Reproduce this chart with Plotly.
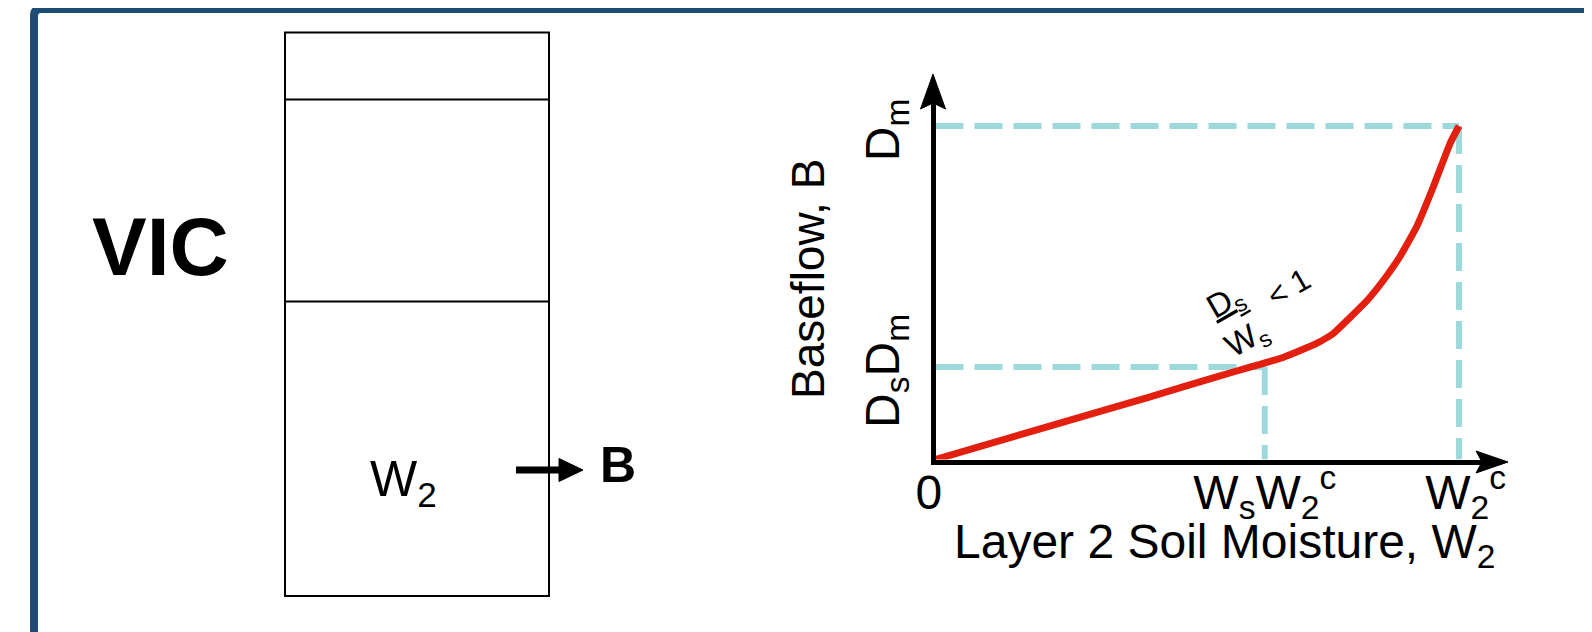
import plotly.graph_objects as go

W, H = 1592, 632

# ---- data (W2 normalised by W2c, B normalised by Dm) ----
soil_moisture = [0, 0.2, 0.41, 0.537, 0.601, 0.664, 0.728, 0.760, 0.792, 0.824,
                 0.855, 0.887, 0.919, 0.951, 0.983, 1.0]
baseflow = [0, 0.092, 0.188, 0.248, 0.277, 0.306, 0.348, 0.378, 0.426, 0.476,
            0.536, 0.608, 0.698, 0.818, 0.948, 1.0]
ws_frac = 0.629
ds_frac = 0.277
x_tick_vals = [0, ws_frac, 1.0]
x_tick_text = ["0&nbsp;", "W<sub>s</sub>W<sub>2</sub><sup>c</sup>", "&nbsp;W<sub>2</sub><sup>c</sup>"]
y_tick_vals = [ds_frac, 1.0]
y_tick_text = ["D<sub>s</sub>D<sub>m</sub>", "D<sub>m</sub>"]

FONT = "Liberation Sans, Arial, Helvetica, sans-serif"
CYAN = "#9DD8DB"
RED = "#E3200F"
NAVY = "#1F4C75"

# page offset of the plot inside the html page
OFF = 8

# ---- pixel geometry of the chart box ----
X0_PX, X_UNIT, X_END = 935.5, 523.5, 1500
Y0_PX, Y_UNIT, Y_END = 459.5, 333.5, 82


def px(x):
    return (x - OFF) / W


def py(y):
    return 1 - (y - OFF) / H


fig = go.Figure()

dash = "28px,11px"
fig.add_trace(go.Scatter(x=[0, 1.0], y=[1.0, 1.0], mode="lines",
                         line=dict(color=CYAN, width=6, dash=dash), hoverinfo="skip"))
fig.add_trace(go.Scatter(x=[0, ws_frac], y=[ds_frac, ds_frac], mode="lines",
                         line=dict(color=CYAN, width=6, dash=dash), hoverinfo="skip"))
fig.add_trace(go.Scatter(x=[ws_frac, ws_frac], y=[ds_frac, 0], mode="lines",
                         line=dict(color=CYAN, width=6, dash=dash), hoverinfo="skip"))
fig.add_trace(go.Scatter(x=[1.0, 1.0], y=[1.0, 0], mode="lines",
                         line=dict(color=CYAN, width=6, dash=dash), hoverinfo="skip"))
fig.add_trace(go.Scatter(x=soil_moisture, y=baseflow, mode="lines",
                         line=dict(color=RED, width=7, shape="spline", smoothing=0.4),
                         hoverinfo="skip"))

fig.update_xaxes(
    domain=[px(X0_PX), px(X_END)], range=[0, (X_END - X0_PX) / X_UNIT], automargin=False,
    showgrid=False, zeroline=False, showline=True, linewidth=5, linecolor="black",
    ticks="", tickvals=x_tick_vals, ticktext=x_tick_text,
    tickfont=dict(family=FONT, size=48, color="black"), ticklabelstandoff=-13,
)
fig.update_yaxes(
    domain=[py(Y0_PX), py(Y_END)], range=[0, (Y0_PX - Y_END) / Y_UNIT], automargin=False,
    showgrid=False, zeroline=False, showline=True, linewidth=5, linecolor="black",
    ticks="", tickvals=y_tick_vals, ticktext=y_tick_text, tickangle=-90,
    tickfont=dict(family=FONT, size=48, color="black"), ticklabelstandoff=12,
    ticklabelshift=11,
)

shapes = []
# outer frame with rounded corner (kept inside the paper so nothing overflows)
frame = "M {},{} L {},{} Q {},{} {},{} L {},{}".format(
    px(34), 4 / H, px(34), py(16), px(34), py(9), px(41), py(9), 1 - 4 / W, py(9))
shapes.append(dict(type="path", xref="paper", yref="paper", path=frame,
                   line=dict(color=NAVY, width=8)))
# soil column
shapes.append(dict(type="rect", xref="paper", yref="paper",
                   x0=px(285), x1=px(549), y0=py(32.5), y1=py(596),
                   line=dict(color="black", width=2)))
for yy in (99.5, 301.5):
    shapes.append(dict(type="line", xref="paper", yref="paper",
                       x0=px(285), x1=px(549), y0=py(yy), y1=py(yy),
                       line=dict(color="black", width=2)))
# W2 -> B arrow
shapes.append(dict(type="line", xref="paper", yref="paper",
                   x0=px(516), x1=px(562), y0=py(470), y1=py(470),
                   line=dict(color="black", width=7)))
shapes.append(dict(type="path", xref="paper", yref="paper",
                   path="M {},{} L {},{} L {},{} Z".format(px(559), py(458.5), px(583), py(470),
                                                          px(559), py(481.5)),
                   fillcolor="black", line=dict(color="black", width=1)))
# axis arrow heads
shapes.append(dict(type="path", xref="paper", yref="paper",
                   path="M {},{} L {},{} L {},{} L {},{} Z".format(
                       px(933), py(74), px(945.5), py(109), px(933), py(103), px(920.5), py(109)),
                   fillcolor="black", line=dict(color="black", width=1)))
shapes.append(dict(type="path", xref="paper", yref="paper",
                   path="M {},{} L {},{} L {},{} L {},{} Z".format(
                       px(1508), py(462), px(1476), py(451), px(1482), py(462), px(1476), py(473)),
                   fillcolor="black", line=dict(color="black", width=1)))

annotations = [
    dict(text="<b>VIC</b>", x=px(160), y=py(199), xref="paper", yref="paper",
         xanchor="center", yanchor="top", showarrow=False,
         font=dict(family=FONT, size=82, color="black")),
    dict(text="W<sub>2</sub>", x=px(368), y=py(449), xref="paper", yref="paper",
         xanchor="left", yanchor="top", showarrow=False,
         font=dict(family=FONT, size=50, color="black")),
    dict(text="<b>B</b>", x=px(598), y=py(435), xref="paper", yref="paper",
         xanchor="left", yanchor="top", showarrow=False,
         font=dict(family=FONT, size=50, color="black")),
    dict(text="Baseflow, B", x=px(808), y=py(279), xref="paper", yref="paper",
         xanchor="center", yanchor="middle", textangle=-90, showarrow=False,
         font=dict(family=FONT, size=46, color="black")),
    dict(text="Layer 2 Soil Moisture, W<sub>2</sub>", x=px(1225), y=py(513),
         xref="paper", yref="paper", xanchor="center", yanchor="top", showarrow=False,
         font=dict(family=FONT, size=48, color="black")),
    dict(text="<u>D<sub>s</sub></u><br>W<sub>s</sub>", x=px(1236), y=py(321),
         xref="paper", yref="paper", xanchor="center", yanchor="middle",
         textangle=-30, showarrow=False,
         font=dict(family=FONT, size=33, color="black")),
    dict(text="&lt; 1", x=px(1289), y=py(288), xref="paper", yref="paper",
         xanchor="center", yanchor="middle", textangle=-30, showarrow=False,
         font=dict(family=FONT, size=31, color="black")),
]

fig.update_layout(
    width=W, height=H, margin=dict(l=0, r=0, t=0, b=0, autoexpand=False),
    paper_bgcolor="white", plot_bgcolor="white", showlegend=False,
    shapes=shapes, annotations=annotations,
)

fig.write_html("out.html")
